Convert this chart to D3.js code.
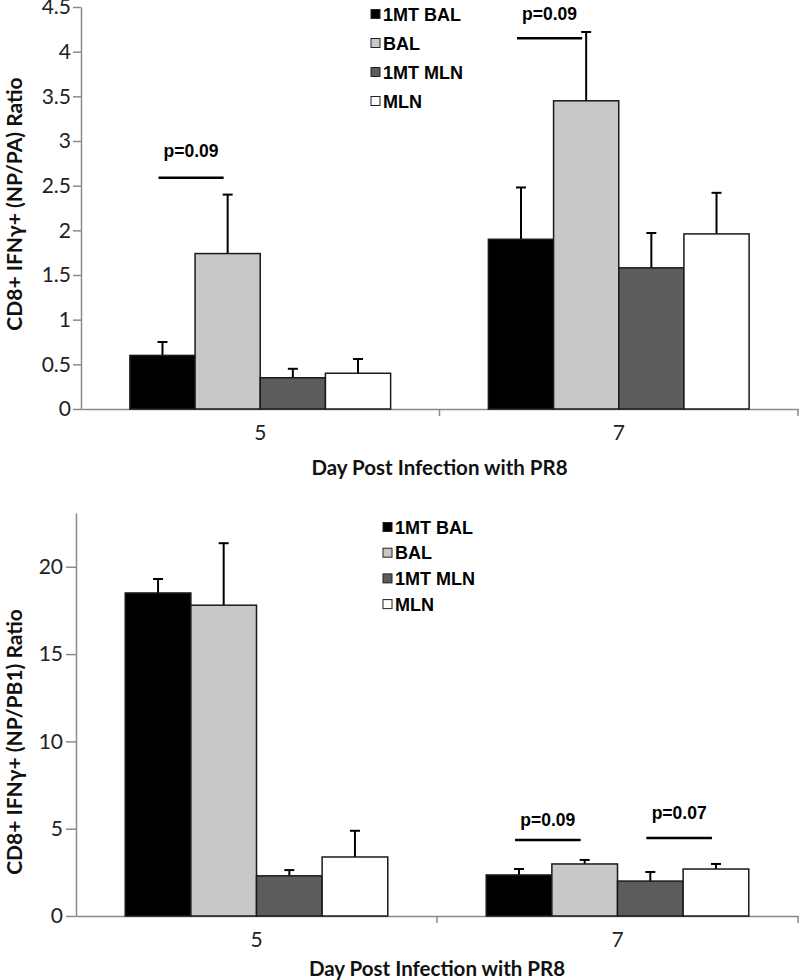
<!DOCTYPE html>
<html><head><meta charset="utf-8">
<script src="https://cdn.jsdelivr.net/npm/d3@7"></script>
<style>body{margin:0;background:#fff}</style></head>
<body><svg id="c" width="800" height="980"></svg>
<script>
// ---- data ----
const days = ["5", "7"];
const groups = ["1MT BAL", "BAL", "1MT MLN", "MLN"];
const groupColors = ["#000000", "#c8c8c8", "#5c5c5c", "#ffffff"];
const paMeans = [[0.60, 1.74, 0.35, 0.40], [1.90, 3.45, 1.58, 1.96]];
const paErrors = [[0.15, 0.66, 0.10, 0.16], [0.58, 0.77, 0.39, 0.46]];
const paTicks = [0, 0.5, 1, 1.5, 2, 2.5, 3, 3.5, 4, 4.5];
const pb1Means = [[18.5, 17.8, 2.30, 3.38], [2.35, 2.98, 2.00, 2.69]];
const pb1Errors = [[0.80, 3.55, 0.33, 1.50], [0.34, 0.23, 0.52, 0.29]];
const pb1Ticks = [0, 5, 10, 15, 20];
const paPvals = [
  {day: "5", from: 0, to: 1, value: 2.59, textValue: 2.82, label: "p=0.09"},
  {day: "7", from: 0, to: 1, value: 4.15, textValue: 4.36, label: "p=0.09"}
];
const pb1Pvals = [
  {day: "7", from: 0, to: 1, value: 4.35, textValue: 5.15, label: "p=0.09"},
  {day: "7", from: 2, to: 3, value: 4.47, textValue: 5.55, label: "p=0.07"}
];

const svg = d3.select("#c");
const tickFont = "Lato, 'Open Sans', sans-serif";
const legFont = "'Liberation Sans', Arial, sans-serif";

function panel(o) {
  const g = svg.append("g");
  const x = d3.scaleBand().domain(days).range([o.left, o.right]).padding(0);
  const xi = d3.scaleBand().domain(groups).range([0, x.bandwidth()]).paddingInner(0).paddingOuter(0.75);
  const y = d3.scaleLinear().domain([0, o.yMax]).range([o.bottom, o.top]);

  // y axis
  const ya = g.append("g").attr("transform", `translate(${o.left},0)`)
    .call(d3.axisLeft(y).tickValues(o.ticks).tickSize(o.tickLen).tickPadding(o.tickPad).tickSizeOuter(0)
      .tickFormat(d => String(d)));
  ya.select(".domain").attr("stroke", "#8a8a8a").attr("stroke-width", 1.5);
  ya.selectAll(".tick line").attr("stroke", "#8a8a8a").attr("stroke-width", 1.5);
  ya.selectAll(".tick text").attr("font-family", tickFont).attr("font-size", 21).attr("fill", "#222");

  // x axis
  const xa = g.append("g").attr("transform", `translate(0,${o.bottom})`)
    .call(d3.axisBottom(x).tickSize(0).tickPadding(16));
  xa.select(".domain").attr("stroke", "#8a8a8a").attr("stroke-width", 1.5);
  xa.selectAll(".tick text").attr("font-family", tickFont).attr("font-size", 21).attr("fill", "#222");
  const bounds = days.map(d => x(d)).concat([x(days[days.length - 1]) + x.bandwidth()]).slice(1);
  xa.selectAll("line.bt").data(bounds).join("line").attr("class", "bt")
    .attr("x1", d => d).attr("x2", d => d).attr("y1", 0).attr("y2", 7)
    .attr("stroke", "#8a8a8a").attr("stroke-width", 1.5);

  // bars
  const rows = [];
  days.forEach((d, i) => groups.forEach((gr, j) => rows.push({day: d, group: gr, j, v: o.means[i][j], e: o.errors[i][j]})));
  const bx = r => x(r.day) + xi(r.group);
  g.selectAll("line.err").data(rows).join("line").attr("class", "err")
    .attr("x1", r => bx(r) + xi.bandwidth() / 2).attr("x2", r => bx(r) + xi.bandwidth() / 2)
    .attr("y1", r => y(r.v)).attr("y2", r => y(r.v + r.e))
    .attr("stroke", "#000").attr("stroke-width", 2);
  g.selectAll("line.cap").data(rows).join("line").attr("class", "cap")
    .attr("x1", r => bx(r) + xi.bandwidth() / 2 - 5).attr("x2", r => bx(r) + xi.bandwidth() / 2 + 5)
    .attr("y1", r => y(r.v + r.e)).attr("y2", r => y(r.v + r.e))
    .attr("stroke", "#000").attr("stroke-width", 2);
  g.selectAll("rect.bar").data(rows).join("rect").attr("class", "bar")
    .attr("x", r => bx(r)).attr("width", xi.bandwidth())
    .attr("y", r => y(r.v)).attr("height", r => y(0) - y(r.v))
    .attr("fill", r => groupColors[r.j]).attr("stroke", "#1a1a1a").attr("stroke-width", 1.5);

  // p-value annotations
  const cx = (d, j) => x(d) + xi(groups[j]) + xi.bandwidth() / 2;
  g.selectAll("line.p").data(o.pvals).join("line").attr("class", "p")
    .attr("x1", p => cx(p.day, p.from) - 4).attr("x2", p => cx(p.day, p.to) - 4)
    .attr("y1", p => y(p.value)).attr("y2", p => y(p.value))
    .attr("stroke", "#000").attr("stroke-width", 2.5);
  g.selectAll("text.p").data(o.pvals).join("text").attr("class", "p")
    .attr("x", p => (cx(p.day, p.from) + cx(p.day, p.to)) / 2 - 4).attr("y", p => y(p.textValue))
    .attr("text-anchor", "middle").attr("font-family", legFont).attr("font-weight", "bold")
    .attr("font-size", 17.5).text(p => p.label);

  // legend
  const lg = g.append("g").attr("transform", `translate(${o.legX},${o.legY})`);
  const li = lg.selectAll("g").data(groups).join("g").attr("transform", (d, i) => `translate(0,${i * o.legStep})`);
  li.append("rect").attr("x", 0).attr("y", -4.5).attr("width", 9).attr("height", 9)
    .attr("fill", (d, i) => groupColors[i]).attr("stroke", "#222").attr("stroke-width", 1);
  li.append("text").attr("x", 12).attr("y", 6.5).attr("font-family", legFont).attr("font-weight", "bold")
    .attr("font-size", 18).text(d => d);

  // titles
  g.append("text").attr("x", (o.left + o.right) / 2).attr("y", o.xTitleY).attr("text-anchor", "middle")
    .attr("font-family", tickFont).attr("font-weight", "bold").attr("font-size", 20.5).attr("fill", "#111")
    .text("Day Post Infection with PR8");
  g.append("text").attr("transform", `translate(${o.yTitleX},${o.yTitleY}) rotate(-90)`).attr("text-anchor", "middle")
    .attr("font-family", tickFont).attr("font-weight", "bold").attr("font-size", 21).attr("fill", "#111")
    .text(o.yTitle);
}

panel({left: 81, right: 798, top: 7, bottom: 409, yMax: 4.5, ticks: paTicks, tickLen: 8, tickPad: 2,
  means: paMeans, errors: paErrors, pvals: paPvals, legX: 371, legY: 14, legStep: 29,
  xTitleY: 475, yTitleX: 22, yTitleY: 204, yTitle: "CD8+ IFNγ+ (NP/PA) Ratio"});
panel({left: 76, right: 798, top: 513, bottom: 916, yMax: 23.08, ticks: pb1Ticks, tickLen: 10, tickPad: 3,
  means: pb1Means, errors: pb1Errors, pvals: pb1Pvals, legX: 383, legY: 527, legStep: 25.7,
  xTitleY: 976, yTitleX: 22, yTitleY: 742, yTitle: "CD8+ IFNγ+ (NP/PB1) Ratio"});
</script></body></html>
